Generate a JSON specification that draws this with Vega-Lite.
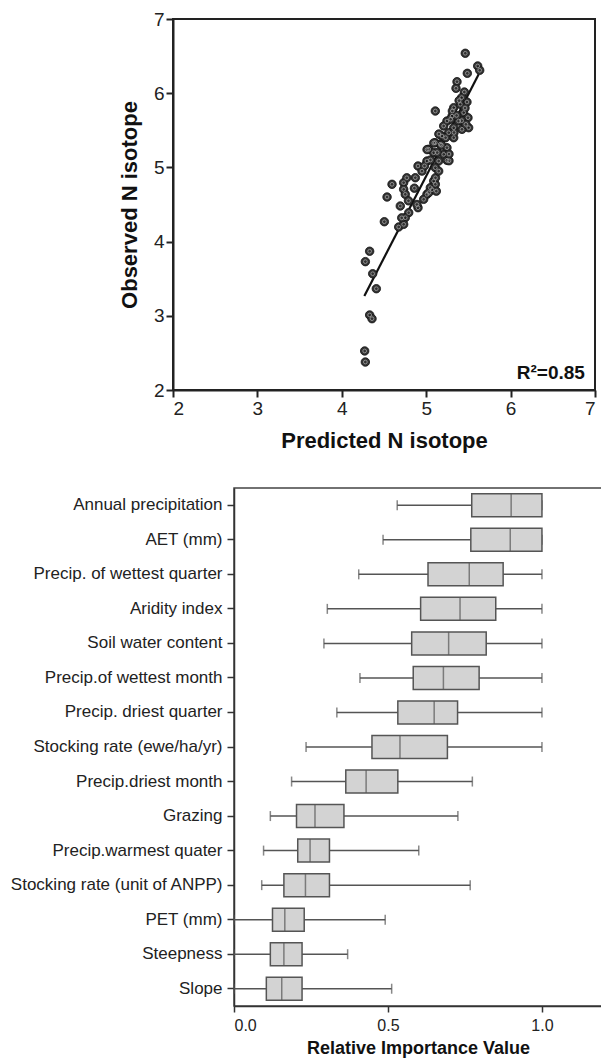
{
  "$schema": "https://vega.github.io/schema/vega-lite/v6.json",
  "padding": {"left": 8, "top": 9, "right": 0, "bottom": 0},
  "background": "white",
  "config": {
    "font": "Liberation Sans",
    "axis": {"grid": false, "domainColor": "#333", "tickColor": "#333", "labelColor": "#222", "titleColor": "#111", "domainWidth": 1.5, "tickWidth": 1.5},
    "view": {"stroke": "#333", "strokeWidth": 1.5}
  },
  "datasets": {
    "pts": [
      {"pred": 5.463, "obs": 6.538}, {"pred": 5.610, "obs": 6.367}, {"pred": 5.634, "obs": 6.309}, {"pred": 5.487, "obs": 6.268},
      {"pred": 5.365, "obs": 6.155}, {"pred": 5.353, "obs": 6.066}, {"pred": 5.452, "obs": 6.016}, {"pred": 5.483, "obs": 5.881},
      {"pred": 5.108, "obs": 5.760}, {"pred": 5.326, "obs": 5.805}, {"pred": 5.404, "obs": 5.850}, {"pred": 5.444, "obs": 5.737},
      {"pred": 5.495, "obs": 5.670}, {"pred": 5.503, "obs": 5.535}, {"pred": 5.306, "obs": 5.690}, {"pred": 5.246, "obs": 5.625},
      {"pred": 5.385, "obs": 5.625}, {"pred": 5.207, "obs": 5.558}, {"pred": 5.326, "obs": 5.535}, {"pred": 5.424, "obs": 5.513},
      {"pred": 5.267, "obs": 5.468}, {"pred": 5.187, "obs": 5.423}, {"pred": 5.326, "obs": 5.400}, {"pred": 5.108, "obs": 5.333},
      {"pred": 5.030, "obs": 5.244}, {"pred": 5.167, "obs": 5.311}, {"pred": 5.246, "obs": 5.266}, {"pred": 5.089, "obs": 5.198},
      {"pred": 5.207, "obs": 5.176}, {"pred": 4.903, "obs": 5.019}, {"pred": 5.009, "obs": 5.086}, {"pred": 5.148, "obs": 5.086},
      {"pred": 5.246, "obs": 5.095}, {"pred": 5.108, "obs": 4.996}, {"pred": 4.871, "obs": 4.861}, {"pred": 5.089, "obs": 4.817},
      {"pred": 5.049, "obs": 4.727}, {"pred": 5.108, "obs": 4.772}, {"pred": 5.009, "obs": 4.637}, {"pred": 4.970, "obs": 4.570},
      {"pred": 4.595, "obs": 4.772}, {"pred": 4.733, "obs": 4.794}, {"pred": 4.733, "obs": 4.705}, {"pred": 4.752, "obs": 4.637},
      {"pred": 4.536, "obs": 4.601}, {"pred": 4.693, "obs": 4.480}, {"pred": 4.903, "obs": 4.457}, {"pred": 4.793, "obs": 4.390},
      {"pred": 4.752, "obs": 4.322}, {"pred": 4.504, "obs": 4.268}, {"pred": 4.674, "obs": 4.197}, {"pred": 4.733, "obs": 4.233},
      {"pred": 4.330, "obs": 3.870}, {"pred": 4.279, "obs": 3.730}, {"pred": 4.366, "obs": 3.567}, {"pred": 4.409, "obs": 3.365},
      {"pred": 4.330, "obs": 3.011}, {"pred": 4.358, "obs": 2.961}, {"pred": 4.271, "obs": 2.526}, {"pred": 4.279, "obs": 2.377},
      {"pred": 5.070, "obs": 4.700}, {"pred": 5.110, "obs": 4.860}, {"pred": 5.148, "obs": 4.950}, {"pred": 5.010, "obs": 5.240},
      {"pred": 5.090, "obs": 5.330}, {"pred": 5.270, "obs": 5.090}, {"pred": 5.270, "obs": 5.180}, {"pred": 5.230, "obs": 5.400},
      {"pred": 5.290, "obs": 5.650}, {"pred": 5.330, "obs": 5.470}, {"pred": 5.420, "obs": 5.630}, {"pred": 5.470, "obs": 5.580},
      {"pred": 5.460, "obs": 5.800}, {"pred": 5.420, "obs": 5.940}, {"pred": 5.310, "obs": 5.760}, {"pred": 4.770, "obs": 4.860},
      {"pred": 4.790, "obs": 4.550}, {"pred": 4.890, "obs": 4.500}, {"pred": 4.710, "obs": 4.320}, {"pred": 4.950, "obs": 4.950},
      {"pred": 4.980, "obs": 5.020}, {"pred": 5.050, "obs": 5.100}, {"pred": 5.130, "obs": 5.200}, {"pred": 5.180, "obs": 5.300},
      {"pred": 5.360, "obs": 5.700}, {"pred": 5.390, "obs": 5.900}, {"pred": 5.030, "obs": 4.660}, {"pred": 5.120, "obs": 4.680},
      {"pred": 5.150, "obs": 5.450}, {"pred": 4.860, "obs": 4.720}
    ],
    "fit": [{"pred": 4.267, "obs": 3.267}, {"pred": 5.622, "obs": 6.255}],
    "note": [{"pred": 6.88, "obs": 2.148, "label": "R²=0.85"}],
    "rel": [
      {"var": "Annual precipitation", "lo": 0.53, "q1": 0.772, "med": 0.900, "q3": 1.0, "hi": 1.0},
      {"var": "AET (mm)", "lo": 0.484, "q1": 0.769, "med": 0.897, "q3": 1.0, "hi": 1.0},
      {"var": "Precip. of wettest quarter", "lo": 0.405, "q1": 0.630, "med": 0.764, "q3": 0.874, "hi": 1.0},
      {"var": "Aridity index", "lo": 0.303, "q1": 0.606, "med": 0.734, "q3": 0.850, "hi": 1.0},
      {"var": "Soil water content", "lo": 0.292, "q1": 0.577, "med": 0.697, "q3": 0.819, "hi": 1.0},
      {"var": "Precip.of wettest month", "lo": 0.409, "q1": 0.582, "med": 0.680, "q3": 0.796, "hi": 1.0},
      {"var": "Precip. driest quarter", "lo": 0.334, "q1": 0.532, "med": 0.650, "q3": 0.726, "hi": 1.0},
      {"var": "Stocking rate (ewe/ha/yr)", "lo": 0.234, "q1": 0.448, "med": 0.539, "q3": 0.693, "hi": 1.0},
      {"var": "Precip.driest month", "lo": 0.187, "q1": 0.363, "med": 0.429, "q3": 0.532, "hi": 0.774},
      {"var": "Grazing", "lo": 0.118, "q1": 0.203, "med": 0.263, "q3": 0.357, "hi": 0.727},
      {"var": "Precip.warmest quater", "lo": 0.096, "q1": 0.207, "med": 0.247, "q3": 0.310, "hi": 0.600},
      {"var": "Stocking rate (unit of ANPP)", "lo": 0.090, "q1": 0.162, "med": 0.232, "q3": 0.310, "hi": 0.767},
      {"var": "PET (mm)", "lo": 0.0, "q1": 0.125, "med": 0.165, "q3": 0.228, "hi": 0.491},
      {"var": "Steepness", "lo": 0.0, "q1": 0.118, "med": 0.162, "q3": 0.221, "hi": 0.369},
      {"var": "Slope", "lo": 0.0, "q1": 0.105, "med": 0.155, "q3": 0.221, "hi": 0.512}
    ]
  },
  "spacing": 35,
  "vconcat": [
    {
      "width": 422, "height": 371,
      "view": {"stroke": "#222", "strokeWidth": 2},
      "encoding": {
        "x": {"field": "pred", "type": "quantitative", "scale": {"domain": [2, 7], "nice": false, "zero": false},
              "axis": {"title": "Predicted N isotope", "values": [2, 3, 4, 5, 6, 7], "tickSize": 7, "labelFontSize": 19, "labelPadding": 2, "titleFontSize": 22, "titleFontWeight": "bold", "titlePadding": 12, "domainColor": "#222", "tickColor": "#222", "domainWidth": 2, "tickWidth": 2}},
        "y": {"field": "obs", "type": "quantitative", "scale": {"domain": [2, 7], "nice": false, "zero": false},
              "axis": {"title": "Observed N isotope", "values": [2, 3, 4, 5, 6, 7], "tickSize": 7, "labelFontSize": 19, "labelPadding": 2, "titleFontSize": 22, "titleFontWeight": "bold", "titlePadding": 12, "domainColor": "#222", "tickColor": "#222", "domainWidth": 2, "tickWidth": 2}}
      },
      "layer": [
        {"data": {"name": "fit"}, "mark": {"type": "line", "color": "#111", "strokeWidth": 2.2}},
        {"data": {"name": "pts"}, "mark": {"type": "point", "shape": "circle", "filled": true, "size": 72, "fill": "#333", "stroke": "#111", "strokeWidth": 0.8, "opacity": 1}},
        {"data": {"name": "pts"}, "mark": {"type": "point", "shape": "circle", "filled": false, "size": 14, "stroke": "#9a9a9a", "strokeWidth": 1, "opacity": 0.9}},
        {"data": {"name": "note"}, "mark": {"type": "text", "align": "right", "baseline": "alphabetic", "fontSize": 19, "fontWeight": "bold", "color": "#111"}, "encoding": {"text": {"field": "label"}}}
      ]
    },
    {
      "bounds": "flush",
      "spacing": 0,
      "hconcat": [
        {
          "width": 61, "height": 10,
          "view": {"stroke": null},
          "data": {"values": []},
          "mark": {"type": "point", "opacity": 0},
          "encoding": {}
        },
        {
          "width": 368, "height": 518,
          "data": {"name": "rel"},
          "view": {"stroke": "#444", "strokeWidth": 1.5},
          "encoding": {
            "y": {"field": "var", "type": "nominal", "sort": null, "scale": {"paddingInner": 0, "paddingOuter": 0},
                  "axis": {"title": null, "labelFontSize": 17, "labelPadding": 5, "tickSize": 7, "labelColor": "#222", "labelLimit": 400}}
          },
          "layer": [
            {"mark": {"type": "rule", "color": "#555", "strokeWidth": 1.5},
             "encoding": {"x": {"field": "lo", "type": "quantitative", "scale": {"domain": [0, 1.195], "nice": false},
                                "axis": {"title": "Relative Importance Value", "values": [0, 0.5, 1.0], "format": ".1f", "tickSize": 6, "labelFontSize": 16, "labelPadding": 5, "titleFontSize": 18, "titleFontWeight": "bold", "titlePadding": 6}},
                          "x2": {"field": "hi"}}},
            {"mark": {"type": "tick", "color": "#555", "thickness": 1.5, "size": 10}, "encoding": {"x": {"field": "lo", "type": "quantitative"}}},
            {"mark": {"type": "tick", "color": "#555", "thickness": 1.5, "size": 10}, "encoding": {"x": {"field": "hi", "type": "quantitative"}}},
            {"mark": {"type": "bar", "fill": "#d3d3d3", "stroke": "#555", "strokeWidth": 1.5, "height": 23},
             "encoding": {"x": {"field": "q1", "type": "quantitative"}, "x2": {"field": "q3"}}},
            {"mark": {"type": "tick", "color": "#555", "thickness": 1.5, "size": 23}, "encoding": {"x": {"field": "med", "type": "quantitative"}}}
          ]
        }
      ]
    }
  ]
}
